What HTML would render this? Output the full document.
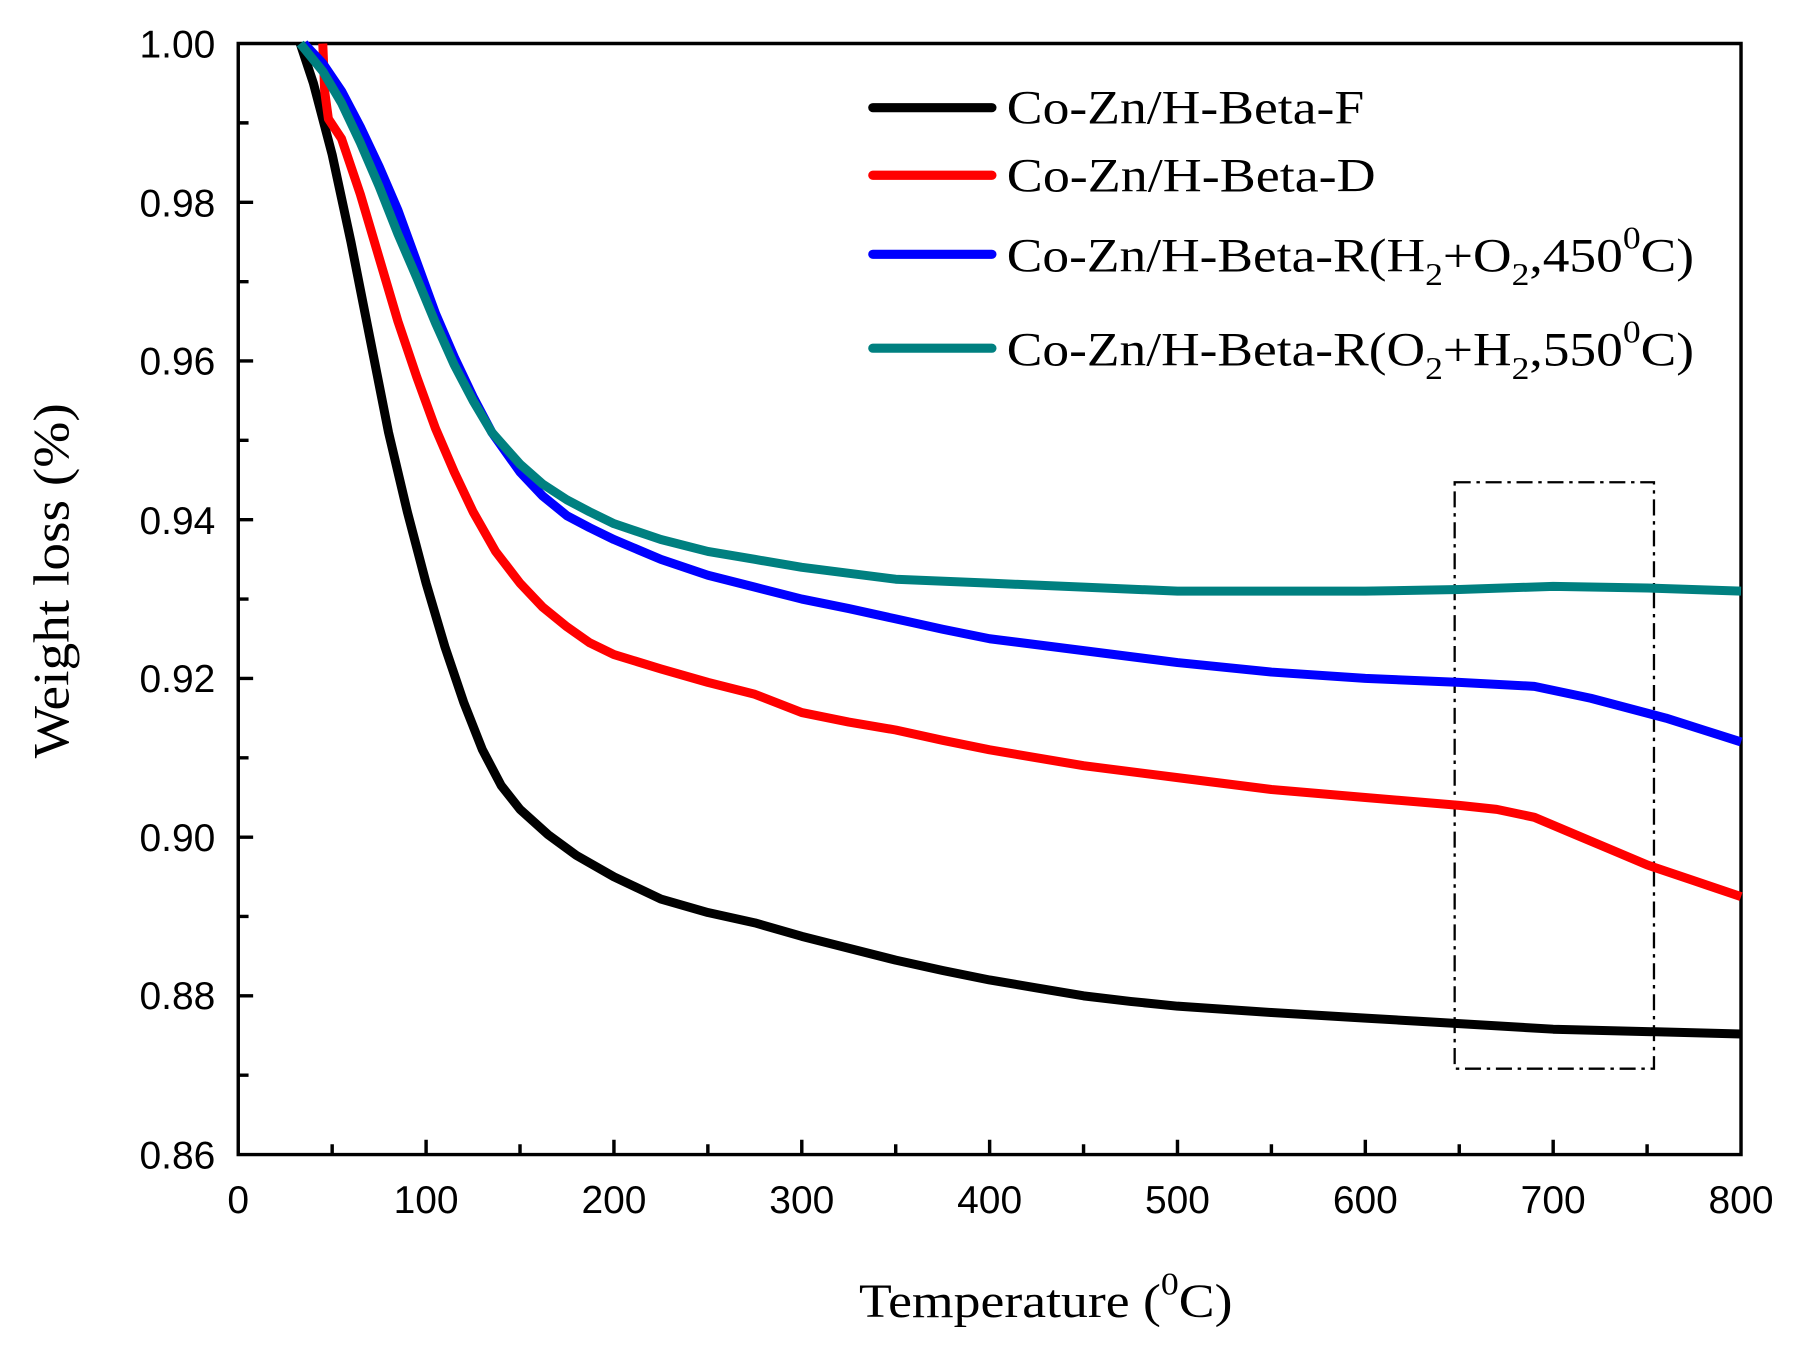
<!DOCTYPE html>
<html><head><meta charset="utf-8"><style>
html,body{margin:0;padding:0;background:#fff;}
svg{display:block;}
</style></head><body>
<svg width="1796" height="1354" viewBox="0 0 1568 1182.1" preserveAspectRatio="none" xmlns="http://www.w3.org/2000/svg">
<rect x="0" y="0" width="1568" height="1183" fill="#fff"/>
<g font-family="Liberation Sans, Arial, sans-serif" font-size="34" fill="#000" text-anchor="end">
<text x="188" y="50">1.00</text>
<text x="188" y="189">0.98</text>
<text x="188" y="327">0.96</text>
<text x="188" y="466">0.94</text>
<text x="188" y="604">0.92</text>
<text x="188" y="743">0.90</text>
<text x="188" y="881">0.88</text>
<text x="188" y="1020">0.86</text>
</g>
<g font-family="Liberation Sans, Arial, sans-serif" font-size="34" fill="#000" text-anchor="middle">
<text x="208" y="1059">0</text>
<text x="372" y="1059">100</text>
<text x="536" y="1059">200</text>
<text x="700" y="1059">300</text>
<text x="864" y="1059">400</text>
<text x="1028" y="1059">500</text>
<text x="1192" y="1059">600</text>
<text x="1356" y="1059">700</text>
<text x="1520" y="1059">800</text>
</g>
<g stroke="#000" stroke-width="3" fill="none">
<path d="M208,38 V1008 H1520 V38 Z"/>
<path d="M208,107.3h9M208,176.6h13M208,245.9h9M208,315.1h13M208,384.4h9M208,453.7h13M208,523h9M208,592.3h13M208,661.6h9M208,730.9h13M208,800.1h9M208,869.4h13M208,938.7h9"/>
<path d="M290,1008v-9M372,1008v-13M454,1008v-9M536,1008v-13M618,1008v-9M700,1008v-13M782,1008v-9M864,1008v-13M946,1008v-9M1028,1008v-13M1110,1008v-9M1192,1008v-13M1274,1008v-9M1356,1008v-13M1438,1008v-9"/>
</g>
<rect x="1270" y="421" width="174" height="512" fill="none" stroke="#000" stroke-width="2" stroke-dasharray="14,5,3,5"/>
<g transform="translate(208,6966.57) scale(1.64,-6928.57)" fill="none" stroke-width="9" stroke-linejoin="round" stroke-linecap="butt">
<polyline vector-effect="non-scaling-stroke" stroke="#000" points="33,1.0 40,0.995 50,0.986 60,0.975 70,0.963 80,0.951 90,0.941 100,0.932 110,0.924 120,0.917 130,0.911 140,0.9065 150,0.9035 165,0.9003 180,0.8977 200,0.895 225,0.8922 250,0.8905 275,0.8892 300,0.8875 325,0.886 350,0.8845 375,0.8832 400,0.882 425,0.881 450,0.880 475,0.8793 500,0.8787 550,0.8779 600,0.8772 650,0.8765 700,0.8758 750,0.8755 800,0.8752"/>
<polyline vector-effect="non-scaling-stroke" stroke="#f00" points="45,1.0 46,0.994 48,0.9905 55,0.988 65,0.981 75,0.973 85,0.965 95,0.958 105,0.9515 115,0.946 125,0.941 137,0.936 150,0.932 162,0.929 175,0.9265 187,0.9245 200,0.923 225,0.9212 250,0.9195 275,0.918 300,0.9157 325,0.9145 350,0.9135 375,0.9122 400,0.911 450,0.909 500,0.9075 550,0.906 600,0.905 650,0.904 670,0.9035 690,0.9025 710,0.9005 730,0.8985 750,0.8965 775,0.8945 800,0.8925"/>
<polyline vector-effect="non-scaling-stroke" stroke="#00f" points="35,1.0 45,0.9975 55,0.994 65,0.9895 75,0.9845 85,0.979 95,0.9725 105,0.966 115,0.9605 125,0.9555 135,0.951 150,0.946 162,0.943 175,0.9405 187,0.939 200,0.9375 225,0.935 250,0.933 275,0.9315 300,0.930 325,0.9288 350,0.9275 375,0.9262 400,0.925 450,0.9235 500,0.922 550,0.9208 600,0.920 650,0.9195 690,0.919 720,0.9175 760,0.915 780,0.9135 800,0.912"/>
<polyline vector-effect="non-scaling-stroke" stroke="#008080" points="33,1.0 45,0.9965 55,0.9925 65,0.9875 75,0.982 85,0.976 95,0.9705 105,0.9648 115,0.9595 125,0.955 135,0.951 150,0.947 162,0.9445 175,0.9425 187,0.941 200,0.9395 225,0.9375 250,0.936 275,0.935 300,0.934 350,0.9325 400,0.932 450,0.9315 500,0.931 550,0.931 600,0.931 650,0.9312 700,0.9316 750,0.9314 800,0.931"/>
</g>
<g stroke-width="8" stroke-linecap="round">
<line x1="762" y1="94" x2="866" y2="94" stroke="#000"/>
<line x1="762" y1="153" x2="866" y2="153" stroke="#f00"/>
<line x1="762" y1="222" x2="866" y2="222" stroke="#00f"/>
<line x1="762" y1="304" x2="866" y2="304" stroke="#008080"/>
</g>
<g font-family="Liberation Serif, Times New Roman, serif" font-size="42" fill="#000">
<text x="879" y="108" textLength="312" lengthAdjust="spacingAndGlyphs">Co-Zn/H-Beta-F</text>
<text x="879" y="167" textLength="322" lengthAdjust="spacingAndGlyphs">Co-Zn/H-Beta-D</text>
<text x="879" y="237" textLength="600" lengthAdjust="spacingAndGlyphs">Co-Zn/H-Beta-R(H<tspan font-size="28" dy="12">2</tspan><tspan dy="-12">+O</tspan><tspan font-size="28" dy="12">2</tspan><tspan dy="-12">,450</tspan><tspan font-size="28" dy="-20">0</tspan><tspan dy="20">C)</tspan></text>
<text x="879" y="319" textLength="600" lengthAdjust="spacingAndGlyphs">Co-Zn/H-Beta-R(O<tspan font-size="28" dy="12">2</tspan><tspan dy="-12">+H</tspan><tspan font-size="28" dy="12">2</tspan><tspan dy="-12">,550</tspan><tspan font-size="28" dy="-20">0</tspan><tspan dy="20">C)</tspan></text>
<text x="750" y="1150" textLength="326" lengthAdjust="spacingAndGlyphs">Temperature (<tspan font-size="28" dy="-20">0</tspan><tspan dy="20">C)</tspan></text>
<text transform="translate(60,507) rotate(-90)" text-anchor="middle" font-size="44" textLength="310" lengthAdjust="spacingAndGlyphs">Weight loss (%)</text>
</g>
</svg>
</body></html>
